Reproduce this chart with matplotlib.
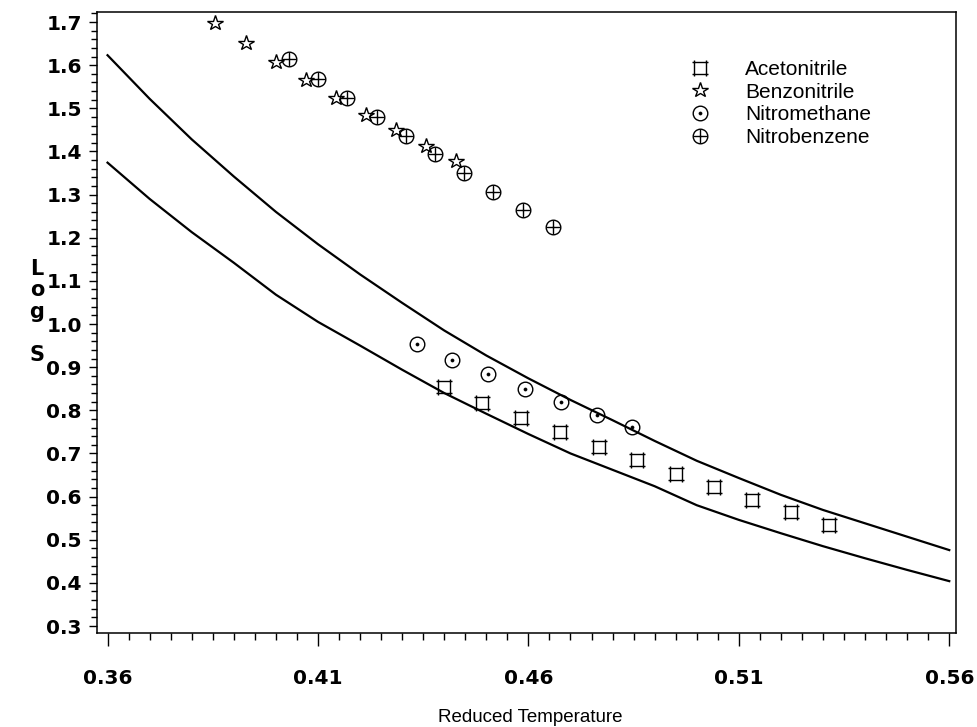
import matplotlib
matplotlib.use("Agg")
import matplotlib.pyplot as plt
from matplotlib.path import Path
from matplotlib.legend_handler import HandlerTuple
from matplotlib.ticker import MultipleLocator, FixedLocator

plt.rcParams['font.family'] = ['Liberation Sans', 'DejaVu Sans']

# ---- data ----
acn_x = [0.4399, 0.4490, 0.4583, 0.4675, 0.4767, 0.4858, 0.4950, 0.5040, 0.5132, 0.5223, 0.5315]
acn_y = [0.854, 0.818, 0.782, 0.749, 0.716, 0.684, 0.652, 0.623, 0.592, 0.564, 0.535]

bzn_x = [0.3855, 0.3928, 0.4000, 0.4071, 0.4142, 0.4213, 0.4285, 0.4356, 0.4427]
bzn_y = [1.698, 1.652, 1.607, 1.565, 1.524, 1.484, 1.450, 1.413, 1.378]

nm_x = [0.4335, 0.4419, 0.4505, 0.4593, 0.4677, 0.4762, 0.4847]
nm_y = [0.954, 0.917, 0.883, 0.849, 0.819, 0.790, 0.761]

nb_x = [0.4032, 0.4101, 0.4170, 0.4241, 0.4309, 0.4378, 0.4447, 0.4516, 0.4588, 0.4659]
nb_y = [1.615, 1.569, 1.524, 1.480, 1.436, 1.393, 1.350, 1.305, 1.264, 1.224]

curve_x = [0.36, 0.37, 0.38, 0.39, 0.40, 0.41, 0.42, 0.43, 0.44, 0.45, 0.46,
           0.47, 0.48, 0.49, 0.50, 0.51, 0.52, 0.53, 0.54, 0.55, 0.56]
upper_y = [1.623, 1.522, 1.428, 1.342, 1.260, 1.185, 1.115, 1.049, 0.985, 0.927, 0.874,
           0.824, 0.777, 0.729, 0.683, 0.643, 0.604, 0.569, 0.538, 0.507, 0.476]
lower_y = [1.374, 1.290, 1.213, 1.142, 1.068, 1.005, 0.950, 0.894, 0.840, 0.792, 0.745,
           0.700, 0.662, 0.624, 0.580, 0.546, 0.515, 0.485, 0.457, 0.430, 0.404]

series_names = ["Acetonitrile", "Benzonitrile", "Nitromethane", "Nitrobenzene"]
x_ticks = [0.36, 0.41, 0.46, 0.51, 0.56]
x_ticklabels = ["0.36", "0.41", "0.46", "0.51", "0.56"]
y_ticks = [0.3, 0.4, 0.5, 0.6, 0.7, 0.8, 0.9, 1.0, 1.1, 1.2, 1.3, 1.4, 1.5, 1.6, 1.7]

# ---- custom square marker with corner ticks ----
e = 1.22
sq_verts = [(-e, 1), (e, 1), (-e, -1), (e, -1), (-1, -e), (-1, e), (1, -e), (1, e)]
sq_codes = [Path.MOVETO, Path.LINETO] * 4
sq_marker = Path(sq_verts, sq_codes)

fig = plt.figure(figsize=(9.78, 7.27), dpi=100)
ax = fig.add_axes([0.0992, 0.1293, 0.8783, 0.8542])

lw_curve = 1.6
ax.plot(curve_x, upper_y, color='black', lw=lw_curve, zorder=2)
ax.plot(curve_x, lower_y, color='black', lw=lw_curve, zorder=2)

mew = 1.0
h_acn, = ax.plot(acn_x, acn_y, linestyle='none', marker=sq_marker, markersize=11,
                 markeredgecolor='black', markerfacecolor='none', markeredgewidth=mew)
h_bzn, = ax.plot(bzn_x, bzn_y, linestyle='none', marker='*', markersize=11.5,
                 markeredgecolor='black', markerfacecolor='none', markeredgewidth=mew)
h_nm_c, = ax.plot(nm_x, nm_y, linestyle='none', marker='o', markersize=10.5,
                  markeredgecolor='black', markerfacecolor='none', markeredgewidth=mew)
h_nm_d, = ax.plot(nm_x, nm_y, linestyle='none', marker='o', markersize=2.2,
                  markeredgecolor='black', markerfacecolor='black', markeredgewidth=0.5)
h_nb_c, = ax.plot(nb_x, nb_y, linestyle='none', marker='o', markersize=10.5,
                  markeredgecolor='black', markerfacecolor='none', markeredgewidth=mew)
h_nb_p, = ax.plot(nb_x, nb_y, linestyle='none', marker='+', markersize=10.5,
                  markeredgecolor='black', markeredgewidth=mew)

ax.set_xlim(0.3575, 0.5616)
ax.set_ylim(0.2838, 1.7232)

ax.xaxis.set_major_locator(FixedLocator(x_ticks))
ax.set_xticklabels(x_ticklabels)
ax.xaxis.set_minor_locator(MultipleLocator(0.005))
ax.yaxis.set_major_locator(FixedLocator(y_ticks))
ax.set_yticklabels([f"{v:.1f}" for v in y_ticks])
ax.yaxis.set_minor_locator(MultipleLocator(0.02))

ax.tick_params(axis='x', which='major', direction='out', length=9, width=1.0,
               pad=17, labelsize=14.5)
ax.tick_params(axis='x', which='minor', direction='out', length=5, width=1.0)
ax.tick_params(axis='y', which='major', direction='out', length=6, width=1.0,
               pad=5, labelsize=14.5)
ax.tick_params(axis='y', which='minor', direction='out', length=4, width=1.0)
for lab in ax.get_xticklabels() + ax.get_yticklabels():
    lab.set_fontweight('bold')
    lab.set_fontfamily('DejaVu Sans')

for sp in ax.spines.values():
    sp.set_linewidth(1.1)

fig.text(530 / 978, 1 - 718 / 727, "Reduced Temperature", ha='center', va='center',
         fontsize=13.5)
fig.text(37 / 978, 1 - 312 / 727, "L\no\ng\n\nS", ha='center', va='center',
         fontsize=15, fontweight='bold', linespacing=1.1, multialignment='center',
         family='DejaVu Sans')

leg = ax.legend([h_acn, h_bzn, (h_nm_c, h_nm_d), (h_nb_c, h_nb_p)], series_names,
                handler_map={tuple: HandlerTuple(ndivide=1)},
                loc='upper left', bbox_to_anchor=(0.690, 0.923), frameon=False,
                fontsize=15, handlelength=1.0, handletextpad=1.66,
                labelspacing=0.18, borderpad=0, borderaxespad=0)

fig.savefig("out.png", dpi=100)
